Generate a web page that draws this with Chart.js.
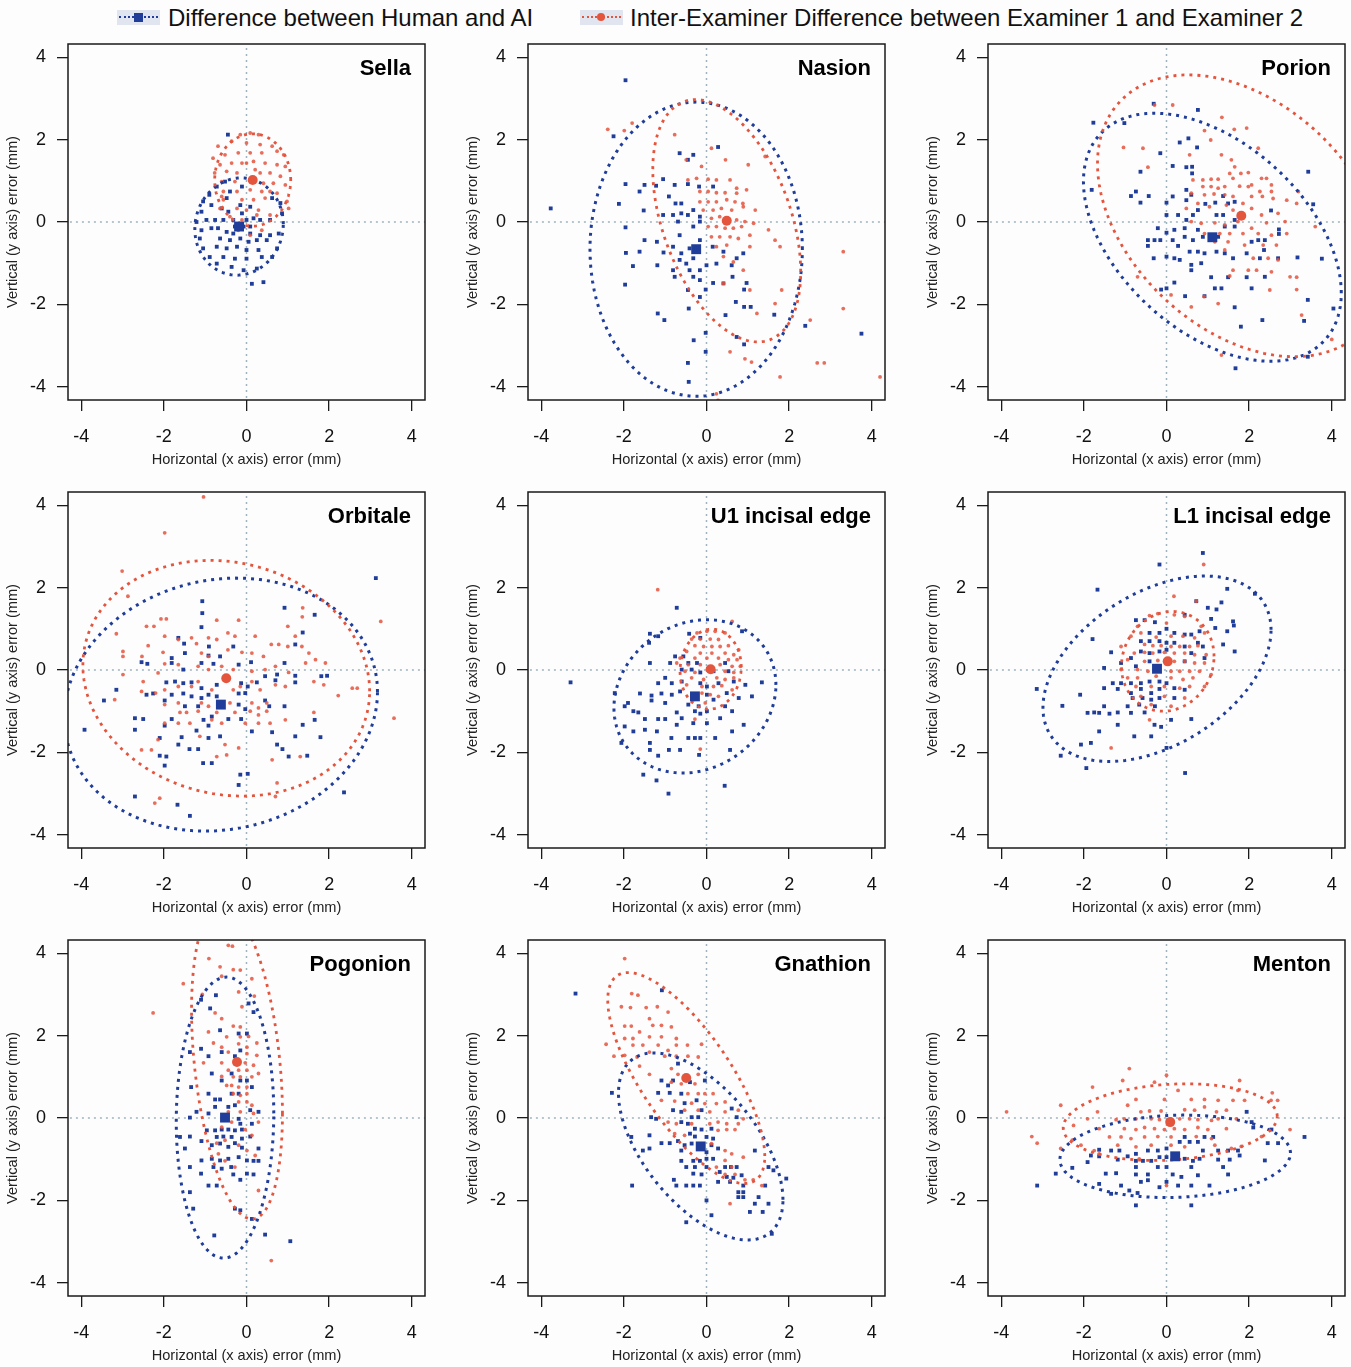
<!DOCTYPE html>
<html>
<head>
<meta charset="utf-8">
<script src="https://cdn.jsdelivr.net/npm/chart.js@4.4.1/dist/chart.umd.min.js"></script>
<style>
  body { margin: 0; width: 1351px; height: 1367px; overflow: hidden; position: relative; background: #fdfdfe; font-family: "Liberation Sans", Arial, sans-serif; }
  canvas { position: absolute; }
  .sym { position: absolute; top: 10px; width: 43px; height: 15px; background: #e1e5f0; }
  .sym .line { position: absolute; left: 2px; right: 2px; top: 6px; border-top: 2px dotted; }
  .sym .mark { position: absolute; left: 17px; top: 3px; width: 9px; height: 9px; }
  .lab { position: absolute; top: 4px; font-size: 24px; color: #111; white-space: nowrap; line-height: 28px; }
</style>
</head>
<body>
<div class="sym" style="left:117px"><div class="line" style="border-color:#1f3d99"></div><div class="mark" style="background:#1f3d99"></div></div>
<div class="lab" id="lab0" style="left:168px"></div>
<div class="sym" style="left:580px"><div class="line" style="border-color:#e4553e"></div><div class="mark" style="background:#e4553e;border-radius:50%;width:8px;height:8px;left:17px;top:3px"></div></div>
<div class="lab" id="lab1" style="left:630px"></div>

<script>
/* =========================
  Data
========================= */
const landmarks = ["Sella", "Nasion", "Porion", "Orbitale", "U1 incisal edge", "L1 incisal edge", "Pogonion", "Gnathion", "Menton"];
const seriesNames = ["Difference between Human and AI", "Inter-Examiner Difference between Examiner 1 and Examiner 2"];
const tickValues = [-4, -2, 0, 2, 4];
const xTitle = "Horizontal (x axis) error (mm)";
const yTitle = "Vertical (y axis) error (mm)";

// mean error per landmark [x, y]
const aiMeans = [[-0.18,-0.11],[-0.25,-0.66],[1.11,-0.37],[-0.62,-0.84],[-0.28,-0.64],[-0.23,0.03],[-0.52,0.01],[-0.14,-0.69],[0.21,-0.93]];
const examMeans = [[0.15,1.02],[0.49,0.03],[1.81,0.15],[-0.49,-0.2],[0.1,0.02],[0.03,0.21],[-0.23,1.36],[-0.49,0.97],[0.09,-0.1]];

// confidence ellipse per landmark [half width x, half height y, correlation]
const aiEllipses = [[1.07,1.18,0.05],[2.57,3.57,0.0],[3.12,3.01,-0.45],[3.79,3.07,0.1],[1.96,1.86,0.15],[2.76,2.25,0.42],[1.18,3.41,0.03],[1.99,2.27,-0.57],[2.79,1.0,0.08]];
const examEllipses = [[0.92,1.12,0.0],[1.79,2.94,-0.42],[3.48,3.42,-0.37],[3.47,2.86,-0.11],[0.74,0.97,0.05],[1.12,1.21,0.1],[1.1,3.81,-0.33],[1.9,2.56,-0.74],[2.59,0.93,0.15]];

const aiSella = [[-0.45,2.12],[-0.52,0.98],[-0.72,0.86],[-0.9,0.66],[-0.11,0.86],[-0.4,0.74],[-0.48,0.58],[-1.05,0.5],[-0.85,0.41],[-1.09,0.25],[-0.6,0.33],[-0.44,0.25],[-0.15,0.41],[0.09,0.37],[0.62,0.58],[0.82,0.46],[0.86,0.21],[-1.21,0.0],[-0.97,0.05],[-0.76,0.05],[-0.56,0.05],[-0.32,0.05],[0.17,0.09],[0.33,0.05],[0.57,0.05],[-1.09,-0.2],[-0.85,-0.15],[-0.69,-0.15],[-0.48,-0.24],[-0.32,-0.28],[0.09,-0.28],[0.33,-0.32],[0.57,-0.32],[0.78,-0.28],[-1.13,-0.4],[-0.64,-0.4],[-0.4,-0.44],[-0.15,-0.4],[0.05,-0.48],[0.25,-0.44],[0.49,-0.44],[-1.05,-0.64],[-0.72,-0.6],[-0.48,-0.64],[-0.23,-0.6],[0.0,-0.68],[0.29,-0.68],[0.74,-0.64],[-0.89,-0.85],[-0.56,-0.85],[-0.28,-0.89],[0.0,-0.89],[0.37,-0.85],[0.62,-0.85],[-0.72,-1.01],[-0.36,-1.09],[-0.07,-1.17],[0.25,-1.13],[0.13,-1.5],[0.41,-1.46],[-0.2,-0.07],[-0.07,-0.11],[-0.28,-0.11],[0.0,0.05],[-0.11,0.21],[0.09,-0.11]];
const examSella = [[-0.15,2.12],[0.09,2.16],[0.29,2.12],[-0.69,1.84],[-0.36,1.96],[0.0,1.92],[0.33,1.88],[0.62,1.84],[0.74,1.72],[0.9,1.63],[-0.81,1.55],[-0.52,1.63],[-0.2,1.68],[0.09,1.68],[0.37,1.68],[-0.64,1.39],[-0.36,1.43],[-0.11,1.43],[0.17,1.47],[0.45,1.43],[0.74,1.39],[0.94,1.35],[-0.77,1.19],[-0.48,1.23],[-0.23,1.19],[0.33,1.19],[0.57,1.19],[0.82,1.11],[-0.6,0.98],[-0.28,0.98],[0.41,0.94],[0.65,0.94],[0.94,0.9],[-0.56,0.74],[-0.23,0.74],[0.09,0.78],[0.37,0.74],[0.57,0.74],[-0.56,0.54],[-0.11,0.54],[0.17,0.54],[0.45,0.58],[0.98,0.5],[-0.64,0.33],[-0.23,0.33],[0.0,0.29],[0.29,0.29],[1.02,0.33],[-0.4,0.13],[0.25,0.17],[0.57,0.17],[-0.11,0.05],[0.37,-0.2],[0.09,-0.32],[-0.2,-0.2],[-0.6,0.62],[0.74,0.7],[0.0,1.43],[0.21,1.27]];

const aiNasion = [[-1.96,3.44],[-3.77,0.33],[-2.25,2.08],[0.28,1.82],[-0.65,1.67],[-0.32,1.63],[-0.45,1.51],[-1.05,1.04],[-1.22,0.88],[-1.5,0.9],[-1.96,0.92],[-1.62,0.74],[-0.77,0.9],[-0.45,0.92],[-0.18,0.86],[0.16,0.86],[-0.91,0.62],[-2.12,0.44],[-0.75,0.45],[-0.61,0.45],[-1.52,0.28],[-1.05,0.17],[-0.81,0.17],[-0.61,0.21],[-0.32,0.29],[-0.45,0.17],[-0.16,0.13],[-1.96,-0.13],[-0.69,0.01],[-0.32,-0.11],[-0.16,0.01],[-1.5,-0.44],[-1.2,-0.48],[-0.65,-0.32],[-0.16,-0.44],[-1.95,-0.75],[-1.62,-0.72],[-1.04,-0.74],[-0.81,-0.6],[-0.61,-0.76],[-0.41,-0.64],[0.15,-0.6],[0.41,-0.72],[-1.78,-1.07],[-1.19,-1.05],[-0.65,-0.92],[-0.49,-1.01],[-0.32,-0.88],[0.0,-1.05],[0.24,-1.01],[0.61,-1.05],[0.89,-0.76],[0.73,-0.88],[-0.81,-1.17],[-0.41,-1.17],[-0.16,-1.17],[-0.77,-1.33],[-0.32,-1.33],[-0.16,-1.41],[0.16,-1.48],[0.41,-1.49],[0.63,-1.33],[0.97,-1.48],[-1.97,-1.52],[-0.45,-1.65],[-0.02,-1.64],[0.91,-1.64],[-0.16,-1.82],[0.71,-1.94],[0.91,-2.06],[1.07,-2.06],[-0.43,-2.1],[-1.18,-2.22],[-1.02,-2.38],[0.46,-2.26],[1.64,-2.25],[2.39,-2.52],[3.75,-2.71],[-0.02,-2.69],[-0.31,-2.87],[0.73,-2.79],[0.91,-2.97],[-0.02,-3.15],[-0.45,-3.42],[-0.43,-3.88]];
const examNasion = [[-2.39,2.25],[-1.99,2.22],[-1.8,2.4],[-0.77,2.12],[0.12,1.79],[0.46,1.51],[-0.49,1.51],[-0.12,1.35],[1.01,1.39],[1.42,1.59],[-0.45,1.02],[-0.24,1.06],[0.04,1.04],[0.24,1.02],[0.57,1.02],[0.73,0.82],[-0.16,0.74],[0.04,0.74],[0.24,0.71],[0.45,0.71],[0.73,0.7],[0.97,0.78],[-0.16,0.49],[0.04,0.49],[0.24,0.49],[0.49,0.54],[0.69,0.49],[0.88,0.45],[-0.08,0.29],[0.16,0.29],[0.36,0.33],[0.61,0.29],[0.89,0.37],[1.18,0.29],[0.12,0.09],[0.32,0.13],[0.73,0.05],[0.93,0.01],[1.14,-0.03],[0.04,-0.11],[0.24,-0.11],[0.45,-0.15],[0.65,-0.15],[0.85,-0.11],[1.5,-0.19],[0.12,-0.36],[0.32,-0.36],[0.57,-0.36],[0.77,-0.4],[1.05,-0.32],[1.66,-0.44],[0.24,-0.6],[0.49,-0.56],[1.05,-0.6],[1.78,-0.6],[3.31,-0.72],[0.41,-0.84],[0.65,-0.97],[0.89,-1.17],[0.41,-1.49],[1.05,-1.65],[1.82,-1.65],[1.66,-1.98],[3.31,-2.1],[1.22,-2.22],[2.51,-2.38],[0.57,-3.15],[0.93,-3.32],[2.85,-3.42],[4.2,-3.76],[1.78,-3.76],[2.68,-3.42],[0.24,-4.17],[0.28,-4.33],[1.09,-3.4]];

const aiPorion = [[-1.77,2.41],[-0.31,2.87],[0.76,2.72],[-1.02,2.4],[0.32,1.93],[0.53,2.03],[0.74,1.81],[-0.15,1.67],[-0.63,1.22],[0.15,1.36],[0.48,1.33],[0.62,1.34],[0.62,1.18],[-1.81,0.78],[-0.86,0.63],[-0.74,0.74],[-0.63,0.47],[-0.43,0.63],[0.0,0.47],[0.15,0.62],[0.48,0.78],[0.6,0.66],[0.48,0.53],[0.76,0.29],[0.94,0.44],[1.18,0.47],[1.37,0.63],[1.49,0.45],[1.65,0.49],[2.53,0.28],[3.43,1.22],[3.55,0.43],[0.0,0.17],[0.28,0.17],[0.48,0.05],[0.64,0.17],[1.21,0.17],[1.37,0.17],[1.65,0.05],[-0.21,-0.15],[0.0,-0.26],[0.19,-0.19],[0.44,-0.15],[0.76,-0.19],[0.88,-0.36],[1.25,-0.36],[1.41,-0.11],[1.65,-0.11],[2.72,-0.18],[-0.45,-0.44],[-0.29,-0.44],[-0.15,-0.44],[0.15,-0.44],[0.44,-0.36],[0.64,-0.44],[2.06,-0.48],[2.22,-0.44],[2.38,-0.44],[2.72,-0.29],[-0.45,-0.58],[0.28,-0.58],[0.56,-0.72],[0.76,-0.72],[0.92,-0.76],[1.21,-0.72],[1.41,-0.76],[1.61,-0.88],[1.94,-0.76],[2.26,-0.88],[2.36,-0.68],[-0.31,-0.88],[0.0,-0.84],[0.19,-0.88],[0.32,-0.92],[0.6,-1.04],[0.84,-1.0],[2.7,-0.88],[3.17,-0.86],[3.76,-0.89],[0.6,-1.17],[1.08,-1.34],[1.49,-1.34],[1.94,-1.34],[2.38,-1.33],[0.19,-1.47],[0.0,-1.61],[-0.13,-1.64],[1.17,-1.61],[1.33,-1.61],[2.06,-1.61],[0.45,-1.8],[0.92,-1.8],[3.42,-1.89],[1.65,-2.07],[2.32,-2.38],[4.04,-2.1],[1.8,-2.54],[3.33,-2.4],[3.42,-3.27],[1.67,-3.55]];
const examPorion = [[-0.29,2.84],[0.15,2.84],[1.34,2.54],[1.64,2.25],[1.94,2.28],[0.92,2.22],[-1.04,1.81],[-0.57,1.79],[1.07,1.99],[2.22,1.79],[0.56,1.63],[1.33,1.63],[-0.45,1.33],[1.57,1.51],[1.65,1.34],[1.53,1.18],[1.8,1.18],[1.98,1.2],[0.64,1.02],[0.88,1.02],[1.08,1.04],[1.25,1.04],[1.61,1.06],[2.06,0.9],[2.3,1.06],[2.42,1.06],[2.54,0.9],[0.88,0.86],[1.08,0.86],[1.25,0.82],[1.41,0.86],[1.77,0.87],[1.98,0.86],[2.26,0.74],[2.54,0.74],[3.19,0.74],[0.6,0.7],[0.92,0.66],[1.15,0.68],[1.41,0.66],[1.61,0.62],[2.06,0.62],[2.32,0.62],[2.58,0.57],[2.91,0.53],[3.15,0.45],[0.48,0.33],[0.76,0.45],[1.04,0.37],[1.45,0.41],[1.61,0.29],[1.85,0.45],[2.06,0.33],[2.3,0.17],[2.7,0.21],[2.87,0.01],[3.6,-0.11],[0.6,0.01],[0.84,-0.03],[1.17,-0.02],[1.41,-0.07],[1.73,0.01],[2.06,-0.15],[2.42,-0.02],[0.92,-0.28],[1.29,-0.28],[1.53,-0.28],[1.85,-0.28],[2.22,-0.28],[2.54,-0.32],[2.91,-0.28],[1.17,-0.48],[1.49,-0.48],[1.89,-0.56],[2.34,-0.56],[2.66,-0.56],[1.41,-0.68],[2.1,-0.88],[2.46,-0.88],[2.7,-0.92],[1.61,-1.17],[1.98,-1.17],[2.18,-1.17],[2.54,-1.21],[-0.7,-1.33],[1.53,-1.31],[2.99,-1.33],[3.15,-1.34],[0.11,-1.77],[0.91,-1.81],[1.25,-1.98],[2.5,-1.65],[3.15,-1.64],[0.6,-2.06],[3.27,-2.26],[1.33,-3.23],[4.0,-2.85]];

const aiOrbitale = [[3.13,2.23],[-1.07,1.67],[-1.07,1.38],[0.92,1.51],[1.65,1.34],[-1.09,1.04],[1.36,0.91],[-1.65,0.78],[-1.51,0.64],[-0.91,0.57],[-0.32,0.57],[1.18,0.62],[-1.49,0.41],[-0.92,0.35],[-0.64,0.33],[-2.54,0.19],[-2.4,0.15],[-1.81,0.29],[-1.81,0.17],[-1.53,0.01],[-1.09,0.17],[-0.8,0.15],[-0.19,0.13],[0.11,0.19],[0.45,-0.15],[0.92,0.17],[0.74,-0.11],[1.18,-0.14],[1.81,-0.15],[1.95,-0.14],[-3.15,-0.48],[-1.94,-0.3],[-1.73,-0.28],[-1.53,-0.32],[-1.33,-0.3],[-1.09,-0.44],[-0.72,-0.36],[-0.13,-0.32],[0.03,-0.4],[0.25,-0.3],[0.7,-0.25],[1.18,-0.3],[-3.45,-0.74],[-2.42,-0.6],[-2.26,-0.57],[-1.98,-0.74],[-1.81,-0.6],[-1.53,-0.57],[-1.33,-0.64],[-1.09,-0.68],[-0.92,-0.6],[-0.72,-0.64],[-0.19,-0.57],[-0.03,-0.56],[0.45,-0.74],[0.55,-0.88],[0.92,-0.88],[-1.49,-0.88],[-1.17,-0.88],[-0.19,-0.84],[-0.03,-0.95],[-2.7,-1.17],[-2.5,-1.19],[-1.81,-1.19],[-1.04,-1.21],[-0.84,-1.13],[-0.44,-1.19],[-0.13,-1.19],[1.65,-1.21],[-3.92,-1.45],[-2.7,-1.45],[-1.98,-1.35],[-1.21,-1.47],[-0.92,-1.35],[-0.64,-1.61],[0.13,-1.49],[0.62,-1.51],[1.36,-1.33],[-2.1,-1.65],[-1.57,-1.63],[-0.92,-1.65],[1.18,-1.61],[1.79,-1.63],[-1.65,-1.81],[-1.38,-1.92],[-1.17,-1.92],[0.74,-1.81],[0.87,-1.92],[-2.1,-2.08],[-1.94,-2.1],[1.47,-2.08],[1.02,-2.1],[-1.05,-2.26],[-0.84,-2.26],[-1.98,-2.32],[-0.15,-2.54],[-0.19,-2.79],[0.03,-2.52],[2.36,-2.97],[-1.67,-3.27],[-1.37,-3.54],[-2.7,-3.07]];
const examOrbitale = [[-1.04,4.2],[-1.98,3.33],[-3.01,2.4],[-2.87,1.79],[-2.07,1.24],[-1.94,1.24],[-2.42,1.06],[-2.24,1.06],[-3.15,0.88],[-0.72,1.21],[-0.19,1.21],[1.36,1.51],[1.35,1.29],[3.25,1.18],[-2.38,0.59],[-1.98,0.82],[-1.65,0.74],[-1.33,0.78],[-1.21,0.64],[-0.92,0.78],[-0.72,0.74],[-0.45,0.9],[-0.28,0.82],[0.21,0.82],[1.0,1.06],[1.18,0.82],[0.78,0.62],[-2.99,0.45],[-2.99,0.33],[-2.53,0.33],[-2.02,0.43],[-1.09,0.41],[-0.92,0.33],[-0.45,0.49],[-0.11,0.43],[0.13,0.41],[0.41,0.33],[0.6,0.62],[1.0,0.57],[1.34,0.57],[1.51,0.41],[1.67,0.25],[1.91,0.17],[-2.99,-0.11],[-2.5,-0.28],[-2.14,-0.07],[-1.98,0.15],[-1.65,0.13],[-1.17,0.09],[-0.92,0.01],[-0.6,0.09],[-0.32,0.01],[0.13,-0.03],[0.45,0.01],[0.7,0.09],[1.02,-0.06],[1.43,0.17],[-3.19,-0.72],[-2.54,-0.52],[-2.2,-0.56],[-1.98,-0.48],[-1.65,-0.4],[-1.33,-0.4],[-1.17,-0.28],[-0.84,-0.48],[-0.32,-0.48],[-0.15,-0.4],[0.13,-0.28],[0.33,-0.48],[0.7,-0.36],[0.94,-0.4],[1.63,-0.28],[1.87,-0.36],[2.22,-0.62],[2.56,-0.44],[2.68,-0.44],[3.57,-1.17],[-1.98,-0.84],[-1.65,-0.8],[-1.09,-0.8],[-0.92,-0.88],[-0.4,-0.8],[0.13,-0.8],[0.29,-0.92],[0.49,-0.8],[-1.61,-1.03],[-1.45,-1.03],[-1.17,-1.0],[-0.72,-1.03],[-0.28,-1.03],[0.09,-1.0],[0.29,-1.09],[0.49,-1.0],[1.63,-1.03],[-1.98,-1.29],[-1.65,-1.29],[-1.37,-1.29],[-0.84,-1.21],[-0.6,-1.29],[-0.03,-1.29],[0.29,-1.29],[0.57,-1.29],[0.94,-1.21],[-2.54,-1.94],[-2.3,-1.94],[-2.14,-1.69],[-1.13,-1.61],[-0.52,-1.81],[-0.48,-2.06],[-0.72,-2.1],[0.62,-2.18],[1.3,-2.1],[0.74,-2.74],[-2.22,-3.23],[-2.1,-3.11],[0.7,-3.07],[-0.19,-1.89]];

const aiU1 = [[-3.29,-0.3],[-0.72,1.51],[-1.37,0.88],[-1.17,0.82],[-1.39,0.66],[0.86,0.94],[-0.42,0.88],[-0.15,0.78],[-0.76,0.33],[-0.56,0.33],[-0.88,0.17],[-1.37,0.17],[-0.44,0.17],[-0.23,0.17],[0.45,0.17],[-0.6,0.01],[-0.36,0.01],[-0.15,-0.06],[0.17,-0.03],[0.53,-0.03],[-1.17,-0.32],[-1.0,-0.19],[-0.84,-0.32],[-0.6,-0.28],[-0.15,-0.32],[0.01,-0.4],[0.29,-0.32],[0.66,-0.28],[0.94,-0.36],[1.34,-0.3],[-1.61,-0.57],[-1.33,-0.62],[-1.09,-0.57],[-0.84,-0.6],[-0.64,-0.52],[0.01,-0.6],[0.17,-0.72],[0.49,-0.56],[0.78,-0.68],[1.1,-0.64],[-1.33,-0.74],[-1.0,-0.8],[-0.44,-0.84],[-0.19,-0.88],[0.45,-0.88],[0.62,-1.0],[-1.77,-1.0],[-1.65,-1.03],[-1.98,-0.88],[-1.17,-1.19],[-1.0,-1.19],[-0.72,-1.03],[-0.6,-1.17],[-0.28,-1.0],[-0.15,-1.06],[0.01,-1.0],[0.33,-1.17],[-1.49,-1.19],[-1.98,-1.37],[-1.77,-1.49],[-1.49,-1.45],[-1.2,-1.49],[-0.72,-1.33],[-0.32,-1.29],[0.01,-1.29],[0.62,-1.49],[0.9,-1.33],[-0.85,-1.65],[-0.44,-1.65],[-0.28,-1.65],[-0.15,-1.65],[0.21,-1.65],[-2.06,-1.77],[-1.37,-1.77],[-1.37,-1.94],[-0.91,-1.94],[-0.64,-1.94],[-0.18,-2.06],[0.57,-1.94],[-1.17,-2.08],[-1.53,-2.54],[-1.21,-2.68],[-0.92,-3.0],[0.44,-2.81],[-1.9,-0.8],[-2.22,-0.56]];
const examU1 = [[-1.18,1.95],[0.62,1.18],[-0.23,0.9],[0.01,0.94],[0.21,0.94],[0.45,0.9],[-0.36,0.75],[-0.15,0.75],[0.09,0.75],[0.29,0.74],[-0.28,0.59],[-0.07,0.57],[0.13,0.57],[0.33,0.57],[0.53,0.59],[-0.48,0.45],[-0.15,0.41],[0.13,0.41],[0.45,0.41],[0.66,0.37],[-0.64,0.29],[-0.28,0.29],[0.01,0.29],[0.29,0.29],[0.53,0.25],[0.74,0.25],[-0.44,0.13],[-0.15,0.13],[0.33,0.13],[0.62,0.09],[0.82,0.09],[-0.52,-0.03],[-0.28,-0.06],[0.45,-0.03],[0.66,-0.06],[-0.36,-0.19],[-0.07,-0.23],[0.25,-0.19],[0.45,-0.23],[0.66,-0.19],[-0.48,-0.36],[-0.11,-0.4],[0.17,-0.4],[0.37,-0.38],[0.62,-0.48],[-0.11,-0.56],[0.09,-0.6],[0.29,-0.64],[-0.32,-0.72],[-0.03,-0.8],[-0.28,-1.19],[-0.15,-1.92],[-0.72,0.17],[0.78,0.49]];

const aiL1 = [[0.88,2.84],[-0.17,2.56],[-1.67,1.95],[1.47,1.97],[2.14,1.85],[0.72,1.67],[1.33,1.64],[1.0,1.51],[1.21,1.47],[0.44,1.34],[-0.74,1.21],[-0.53,1.21],[-0.28,1.16],[1.08,1.24],[1.61,1.18],[-1.79,0.75],[0.0,1.0],[-0.41,0.9],[-0.17,0.9],[0.19,0.9],[0.44,0.86],[0.6,0.86],[0.8,0.94],[1.18,1.02],[1.47,0.94],[1.63,1.08],[-0.62,0.7],[-0.41,0.7],[-0.17,0.7],[0.0,0.66],[0.19,0.66],[0.44,0.57],[0.76,0.66],[0.88,0.57],[1.37,0.62],[1.65,0.45],[-1.34,0.43],[-0.86,0.29],[-0.62,0.45],[-0.41,0.41],[-0.17,0.45],[0.0,0.49],[0.6,0.41],[0.92,0.29],[-1.51,0.05],[-1.1,0.17],[-0.74,0.09],[-0.41,0.21],[0.0,0.21],[0.44,0.21],[-1.3,-0.32],[-1.1,-0.32],[-0.86,-0.32],[-0.62,-0.32],[-0.41,-0.28],[-0.17,-0.28],[0.0,-0.32],[-1.51,-0.44],[-1.18,-0.46],[-0.86,-0.56],[-0.62,-0.46],[-0.37,-0.56],[-0.17,-0.46],[0.19,-0.44],[0.44,-0.48],[-3.14,-0.46],[-2.09,-0.6],[-0.82,-0.68],[-0.58,-0.68],[-0.37,-0.72],[-0.17,-0.68],[0.19,-0.68],[-1.51,-0.88],[-0.94,-0.88],[-0.66,-0.84],[-0.28,-0.88],[-2.52,-0.87],[-1.75,-1.03],[-1.91,-1.04],[-1.63,-1.04],[-1.38,-1.06],[-1.18,-1.03],[-0.86,-1.04],[-0.53,-1.03],[0.11,-1.21],[0.6,-1.19],[-1.18,-1.33],[-0.29,-1.33],[-0.13,-1.38],[-1.63,-1.49],[-0.78,-1.61],[-0.37,-1.61],[0.0,-1.89],[-2.07,-1.81],[-1.83,-1.77],[-2.56,-2.08],[-1.94,-2.38],[0.45,-2.5]];
const examL1 = [[0.9,2.56],[0.18,1.79],[0.72,1.67],[-0.41,1.32],[-0.21,1.37],[0.19,1.34],[0.44,1.3],[-0.7,1.06],[0.0,1.14],[0.84,1.06],[-0.86,0.82],[-0.62,0.9],[-0.25,0.8],[0.11,0.82],[0.4,0.82],[0.68,0.78],[0.92,0.9],[-0.53,0.62],[-0.33,0.59],[-0.13,0.59],[0.11,0.57],[0.32,0.57],[0.56,0.57],[0.76,0.59],[-1.1,0.57],[-0.78,0.41],[-0.53,0.43],[-0.33,0.41],[-0.05,0.43],[0.19,0.41],[0.44,0.41],[0.68,0.37],[0.96,0.37],[-0.94,0.25],[-0.53,0.21],[-0.21,0.23],[0.19,0.21],[0.44,0.21],[0.68,0.17],[0.92,0.17],[-1.1,0.01],[-0.7,0.01],[-0.45,-0.03],[0.11,-0.03],[0.32,-0.03],[0.56,-0.03],[0.8,-0.03],[1.08,-0.11],[-0.94,-0.19],[-0.7,-0.19],[-0.25,-0.15],[0.11,-0.19],[0.4,-0.23],[0.64,-0.19],[-0.74,-0.4],[-0.37,-0.4],[-0.05,-0.4],[0.32,-0.44],[0.56,-0.4],[0.92,-0.4],[-0.62,-0.64],[-0.05,-0.64],[0.44,-0.68],[-0.37,-0.84],[0.11,-0.88],[-0.41,-1.21],[-1.34,-1.89]];

const aiPogonion = [[-0.74,2.98],[-1.1,2.87],[-0.88,2.66],[0.05,2.78],[0.17,2.57],[-0.64,2.13],[-0.19,2.05],[0.01,2.05],[-1.1,1.68],[-0.6,1.6],[-0.15,1.64],[-1.37,1.6],[-0.92,1.5],[-0.28,1.5],[-1.34,0.75],[-0.84,1.08],[-0.6,0.91],[-0.36,1.08],[-0.15,0.91],[0.01,0.91],[-0.92,0.59],[-0.76,0.45],[-0.64,0.45],[-0.36,0.59],[-0.19,0.59],[0.13,0.75],[-0.76,0.27],[-0.44,0.27],[-0.28,0.31],[0.09,0.19],[-1.21,0.15],[-1.37,0.01],[-0.92,0.11],[-0.19,-0.02],[0.29,0.15],[-0.15,-0.14],[0.13,-0.14],[-1.61,-0.46],[-1.37,-0.45],[-0.96,-0.3],[-0.76,-0.3],[-0.6,-0.28],[-0.44,-0.28],[-0.28,-0.3],[-0.11,-0.28],[-0.72,-0.46],[-0.56,-0.45],[-0.36,-0.46],[-0.11,-0.5],[0.09,-0.45],[-1.49,-0.74],[-1.09,-0.56],[-0.84,-0.66],[-0.64,-0.62],[-0.44,-0.7],[-0.28,-0.61],[-0.11,-0.72],[0.29,-0.74],[-1.09,-1.03],[-0.84,-0.99],[-0.64,-1.03],[-0.44,-0.99],[-0.19,-0.95],[0.01,-1.03],[0.17,-1.04],[0.29,-1.04],[-1.37,-1.19],[-0.8,-1.19],[-0.6,-1.23],[-0.37,-1.19],[-1.1,-1.35],[-0.32,-1.37],[0.01,-1.35],[0.17,-1.37],[-0.15,-1.5],[-0.92,-1.64],[-0.72,-1.64],[-1.37,-1.8],[-0.28,-2.2],[-0.15,-2.24],[-1.29,-2.2],[0.13,-2.45],[-0.78,-2.85],[0.45,-2.83],[1.06,-2.99]];
const examPogonion = [[-0.44,4.19],[-0.34,4.17],[-0.91,3.87],[-0.64,3.67],[-0.15,3.59],[-0.32,3.6],[-0.6,3.44],[0.13,3.38],[-1.53,3.26],[-1.07,3.0],[-0.19,3.06],[0.19,2.96],[-0.11,2.7],[-2.26,2.55],[-0.76,2.55],[-0.6,2.41],[-0.32,2.23],[-0.15,2.21],[-0.92,2.09],[-0.48,1.97],[-0.15,1.97],[0.05,1.98],[0.25,1.82],[-0.8,1.82],[-0.6,1.72],[-0.19,1.8],[0.01,1.72],[-0.44,1.6],[0.01,1.56],[0.25,1.52],[-1.04,1.34],[-0.6,1.34],[-0.03,1.34],[0.17,1.28],[-0.44,1.16],[-0.19,1.16],[0.01,1.16],[-0.6,1.01],[-0.32,1.0],[-0.15,1.0],[0.13,1.0],[0.29,1.08],[-0.48,0.79],[-0.36,0.79],[-0.19,0.75],[0.01,0.75],[-0.32,0.59],[-0.15,0.55],[0.01,0.59],[-0.19,0.39],[0.01,0.39],[0.13,0.31],[-0.44,0.15],[-0.15,0.15],[0.17,0.11],[-0.36,-0.1],[0.29,-0.1],[-0.6,-0.22],[-0.03,-0.28],[0.13,-0.42],[-0.72,-0.61],[-0.52,-0.54],[-0.19,-0.66],[0.01,-0.79],[0.21,-0.91],[-0.68,-0.87],[-0.52,-1.04],[-0.28,-1.19],[0.29,-1.76],[0.6,-3.46]];

const aiGnathion = [[-3.17,3.02],[-1.08,3.1],[-1.8,-1.64],[-2.29,0.61],[-0.69,1.32],[-1.09,0.91],[-0.93,0.79],[-0.81,0.91],[-0.4,0.87],[-0.04,0.91],[-1.17,0.61],[-0.89,0.61],[-0.61,0.59],[-0.53,0.36],[-0.24,0.43],[-1.34,0.02],[-1.22,-0.02],[-0.81,0.19],[-0.61,0.15],[-0.36,0.02],[-0.2,0.02],[-0.12,0.19],[0.61,0.23],[0.73,0.02],[-0.61,-0.1],[-0.45,-0.14],[-0.28,-0.26],[-0.12,-0.28],[0.12,-0.26],[-1.82,-0.46],[-1.38,-0.42],[-0.4,-0.38],[-0.28,-0.45],[0.0,-0.46],[0.16,-0.5],[-1.09,-0.61],[-0.89,-0.61],[-0.69,-0.56],[-0.53,-0.66],[-0.36,-0.62],[0.12,-0.66],[0.28,-0.74],[-1.54,-0.79],[-1.38,-0.74],[-0.61,-0.79],[0.0,-0.83],[1.17,-0.79],[-0.61,-1.04],[-0.32,-1.04],[-0.16,-1.04],[0.0,-0.99],[0.16,-0.99],[-0.49,-1.19],[-0.28,-1.19],[0.45,-1.19],[0.59,-1.19],[0.73,-1.19],[0.0,-1.19],[-0.32,-1.35],[-0.12,-1.37],[0.32,-1.31],[0.49,-1.43],[0.65,-1.45],[0.85,-1.39],[1.5,-1.19],[1.62,-1.27],[-0.79,-1.5],[-0.73,-1.64],[0.28,-1.55],[0.57,-1.55],[0.89,-1.64],[-0.49,-1.64],[-0.32,-1.64],[-0.16,-1.64],[0.77,-1.8],[0.89,-1.8],[1.42,-1.64],[1.93,-1.47],[0.77,-1.92],[0.89,-1.92],[1.26,-1.92],[0.0,-2.0],[1.17,-2.08],[1.5,-2.08],[1.05,-2.28],[1.36,-2.28],[0.12,-2.36],[-0.49,-2.53],[1.58,-2.81]];
const examGnathion = [[-1.98,3.87],[-1.81,3.02],[-1.66,2.98],[-2.06,2.7],[-1.84,2.68],[-1.46,2.68],[-1.19,2.7],[-0.93,2.57],[-1.38,2.41],[-1.98,2.23],[-1.82,2.23],[-1.3,2.25],[-1.09,2.25],[-1.62,2.09],[-0.85,2.21],[-1.38,1.97],[-1.98,1.93],[-1.78,1.93],[-1.09,1.97],[-0.73,1.93],[-2.43,1.79],[-1.78,1.77],[-1.54,1.77],[-1.17,1.77],[-1.38,1.6],[-0.93,1.64],[-0.73,1.77],[-0.46,1.77],[-0.12,1.79],[-2.24,1.5],[-1.98,1.52],[-1.68,1.48],[-1.01,1.5],[-0.73,1.5],[-0.45,1.5],[-0.2,1.48],[-1.62,1.26],[-1.38,1.06],[-0.85,1.2],[-0.69,1.06],[-0.2,1.06],[-0.85,0.87],[-0.61,0.83],[-0.28,0.83],[-0.45,0.59],[-0.2,0.59],[-0.04,0.59],[0.16,0.59],[-1.09,0.43],[-0.77,0.41],[-0.36,0.36],[-0.04,0.35],[0.24,0.35],[0.45,0.39],[-0.53,0.19],[-0.2,0.19],[0.08,0.15],[0.45,0.15],[0.77,0.19],[-0.93,-0.1],[-0.73,-0.14],[-0.36,-0.14],[0.08,-0.14],[0.28,-0.1],[0.49,-0.14],[0.77,-0.14],[0.89,-0.02],[-0.77,-0.38],[-0.53,-0.42],[0.28,-0.3],[0.49,-0.28],[0.69,-0.28],[0.12,-0.62],[0.45,-0.79],[0.61,-0.87],[0.89,-0.95],[0.45,-1.03],[0.61,-1.19],[0.24,-1.19],[0.45,-1.37],[0.69,-1.37],[0.93,-1.5],[1.13,-1.5],[1.34,-1.64],[0.57,-2.08]];

const aiMenton = [[1.94,0.15],[2.06,-0.1],[2.1,-0.23],[2.54,-0.28],[3.34,-0.46],[2.45,-0.61],[2.7,-0.61],[-3.13,-1.64],[-2.68,-1.35],[-2.28,-1.21],[-1.83,-0.91],[-1.63,-0.77],[-1.34,-0.79],[-1.14,-0.79],[-0.94,-0.93],[-0.74,-0.87],[-0.45,-0.79],[-0.21,-0.79],[0.0,-0.74],[0.32,-0.58],[0.44,-0.46],[0.56,-0.58],[0.76,-0.58],[0.92,-0.46],[1.13,-0.46],[0.88,-0.79],[1.25,-0.79],[1.49,-0.79],[1.73,-0.79],[-1.91,-1.07],[-1.63,-0.93],[-1.18,-1.01],[-0.74,-1.04],[-0.57,-1.04],[-0.37,-1.04],[-0.17,-0.95],[0.0,-0.95],[0.44,-0.99],[0.64,-1.04],[0.8,-0.99],[1.25,-1.01],[1.53,-1.01],[1.77,-0.91],[2.38,-1.03],[-0.74,-1.19],[-0.21,-1.19],[0.0,-1.19],[0.6,-1.19],[1.37,-1.19],[-1.47,-1.35],[-1.22,-1.34],[-0.74,-1.37],[-0.45,-1.37],[0.15,-1.37],[0.36,-1.43],[0.76,-1.39],[1.49,-1.37],[-1.63,-1.6],[-1.1,-1.64],[-0.62,-1.55],[-0.45,-1.51],[0.0,-1.55],[0.28,-1.64],[0.6,-1.64],[1.04,-1.64],[-0.9,-1.76],[-0.7,-1.82],[-0.17,-1.68],[-1.34,-1.84],[-0.74,-2.12],[0.6,-2.12]];
const examMenton = [[-0.9,1.2],[0.0,1.04],[-1.06,0.91],[-0.29,0.87],[1.77,0.91],[-1.79,0.75],[0.28,0.67],[1.73,0.67],[2.56,0.61],[-0.74,0.45],[-0.05,0.45],[0.6,0.45],[0.92,0.45],[1.25,0.43],[1.61,0.43],[1.89,0.43],[2.53,0.43],[2.69,0.43],[-2.56,0.31],[-1.67,0.15],[-0.94,0.31],[-0.62,0.15],[-0.41,0.17],[-0.13,0.17],[0.44,0.2],[0.68,0.19],[0.92,0.27],[1.21,0.15],[1.45,0.19],[-3.87,0.15],[-1.91,-0.02],[-1.22,-0.04],[-1.02,-0.02],[-0.74,-0.02],[-0.37,-0.02],[-0.17,-0.04],[0.32,-0.02],[0.56,-0.02],[0.76,-0.04],[1.09,-0.06],[1.25,-0.02],[1.69,-0.02],[-2.25,-0.18],[-1.63,-0.26],[-1.02,-0.26],[-0.74,-0.28],[-0.53,-0.23],[-0.29,-0.26],[-0.05,-0.28],[0.19,-0.26],[0.44,-0.28],[0.76,-0.23],[1.0,-0.28],[1.45,-0.26],[2.99,-0.28],[-3.26,-0.45],[-3.13,-0.61],[-2.28,-0.54],[-1.38,-0.46],[-1.1,-0.46],[-0.86,-0.5],[-0.53,-0.46],[-0.21,-0.45],[0.11,-0.46],[0.72,-0.45],[1.09,-0.5],[2.3,-0.45],[-2.56,-0.74],[-2.07,-0.66],[-1.75,-0.79],[-1.18,-0.66],[-0.74,-0.7],[-0.37,-0.66],[0.11,-0.66],[0.44,-0.7],[1.17,-0.66],[1.57,-0.74],[-1.63,-0.87],[-0.66,-0.99],[0.0,-1.64],[1.81,-0.69]];

const aiPoints = [aiSella, aiNasion, aiPorion, aiOrbitale, aiU1, aiL1, aiPogonion, aiGnathion, aiMenton];
const examPoints = [examSella, examNasion, examPorion, examOrbitale, examU1, examL1, examPogonion, examGnathion, examMenton];

/* =========================
  Helper
========================= */
const BLUE = "#1f3d99";
const RED = "#e4553e";
const FONT = "'Liberation Sans', Arial, sans-serif";

function toXY(arr) {
  return arr.map(p => ({ x: p[0], y: p[1] }));
}

// outline of a confidence ellipse from its centre, half extents and correlation
function ellipsePath(center, shape) {
  const [cx, cy] = center;
  const [hx, hy, r] = shape;
  const s = Math.sqrt(1 - r * r);
  const pts = [];
  for (let k = 0; k <= 200; k++) {
    const t = (k / 200) * 2 * Math.PI;
    pts.push({ x: cx + hx * Math.cos(t), y: cy + hy * (r * Math.cos(t) + s * Math.sin(t)) });
  }
  return pts;
}

document.getElementById("lab0").textContent = seriesNames[0];
document.getElementById("lab1").textContent = seriesNames[1];

const boxPlugin = {
  id: "box",
  afterDatasetsDraw(chart) {
    const { ctx, chartArea: a } = chart;
    ctx.save();
    ctx.strokeStyle = "#1a1a1a";
    ctx.lineWidth = 1.5;
    ctx.strokeRect(a.left, a.top, a.right - a.left, a.bottom - a.top);
    ctx.restore();
  }
};

const namePlugin = {
  id: "panelName",
  afterDatasetsDraw(chart, args, opts) {
    const { ctx, chartArea: a } = chart;
    ctx.save();
    ctx.font = "bold 22px " + FONT;
    ctx.fillStyle = "#000";
    ctx.textAlign = "right";
    ctx.textBaseline = "middle";
    ctx.fillText(opts.text, a.right - 14, a.top + 25);
    ctx.restore();
  }
};

function axis(title, isX) {
  return {
    type: "linear",
    min: -4.32,
    max: 4.32,
    afterBuildTicks: s => { s.ticks = tickValues.map(v => ({ value: v })); },
    afterFit: s => {
      if (isX) { s.height = 78; s.paddingLeft = 0; s.paddingRight = 0; }
      else { s.width = 68; s.paddingTop = 0; s.paddingBottom = 0; }
    },
    ticks: {
      autoSkip: false,
      color: "#111",
      font: { family: FONT, size: 18 },
      padding: isX ? 15 : 11,
      callback: v => String(v)
    },
    grid: { drawOnChartArea: false, drawTicks: true, tickLength: 11, color: "#1a1a1a", lineWidth: 1.3 },
    border: { display: false },
    title: {
      display: true,
      text: title,
      color: "#222",
      font: { family: FONT, size: 14.6 },
      padding: { top: 4, bottom: 9 }
    }
  };
}

/* =========================
  Render panels
========================= */
landmarks.forEach((name, i) => {
  const col = i % 3, row = Math.floor(i / 3);
  const cv = document.createElement("canvas");
  cv.width = 460;
  cv.height = 448;
  cv.style.left = col * 460 + "px";
  cv.style.top = 30 + row * 448 + "px";
  document.body.appendChild(cv);

  new Chart(cv, {
    type: "scatter",
    data: {
      datasets: [
        { data: [aiMeans[i]].map(p => ({ x: p[0], y: p[1] })), pointStyle: "rect", pointRadius: 7, backgroundColor: BLUE, borderWidth: 0, order: 0 },
        { data: [examMeans[i]].map(p => ({ x: p[0], y: p[1] })), pointStyle: "circle", pointRadius: 5, backgroundColor: RED, borderWidth: 0, order: 1 },
        { data: ellipsePath(examMeans[i], examEllipses[i]), showLine: true, pointRadius: 0, borderColor: RED, borderWidth: 2.8, borderDash: [3, 5], fill: false, order: 2 },
        { data: ellipsePath(aiMeans[i], aiEllipses[i]), showLine: true, pointRadius: 0, borderColor: BLUE, borderWidth: 3, borderDash: [3, 5], fill: false, order: 3 },
        { data: toXY(examPoints[i]), pointStyle: "circle", pointRadius: 1.9, backgroundColor: "rgba(228,85,62,0.85)", borderWidth: 0, order: 4 },
        { data: toXY(aiPoints[i]), pointStyle: "rect", pointRadius: 2.7, backgroundColor: BLUE, borderWidth: 0, order: 5 },
        { data: [{ x: -5, y: 0 }, { x: 5, y: 0 }], showLine: true, pointRadius: 0, borderColor: "#9fb3bf", borderWidth: 1.5, borderDash: [2, 4], order: 6 },
        { data: [{ x: 0, y: -5 }, { x: 0, y: 5 }], showLine: true, pointRadius: 0, borderColor: "#9fb3bf", borderWidth: 1.5, borderDash: [2, 4], order: 7 }
      ]
    },
    options: {
      responsive: false,
      animation: false,
      devicePixelRatio: 1,
      layout: { padding: { left: 0, top: 14, right: 35, bottom: 0 } },
      plugins: {
        legend: { display: false },
        tooltip: { enabled: false },
        panelName: { text: name }
      },
      scales: {
        x: axis(xTitle, true),
        y: axis(yTitle, false)
      }
    },
    plugins: [boxPlugin, namePlugin]
  });
});
</script>
</body>
</html>
